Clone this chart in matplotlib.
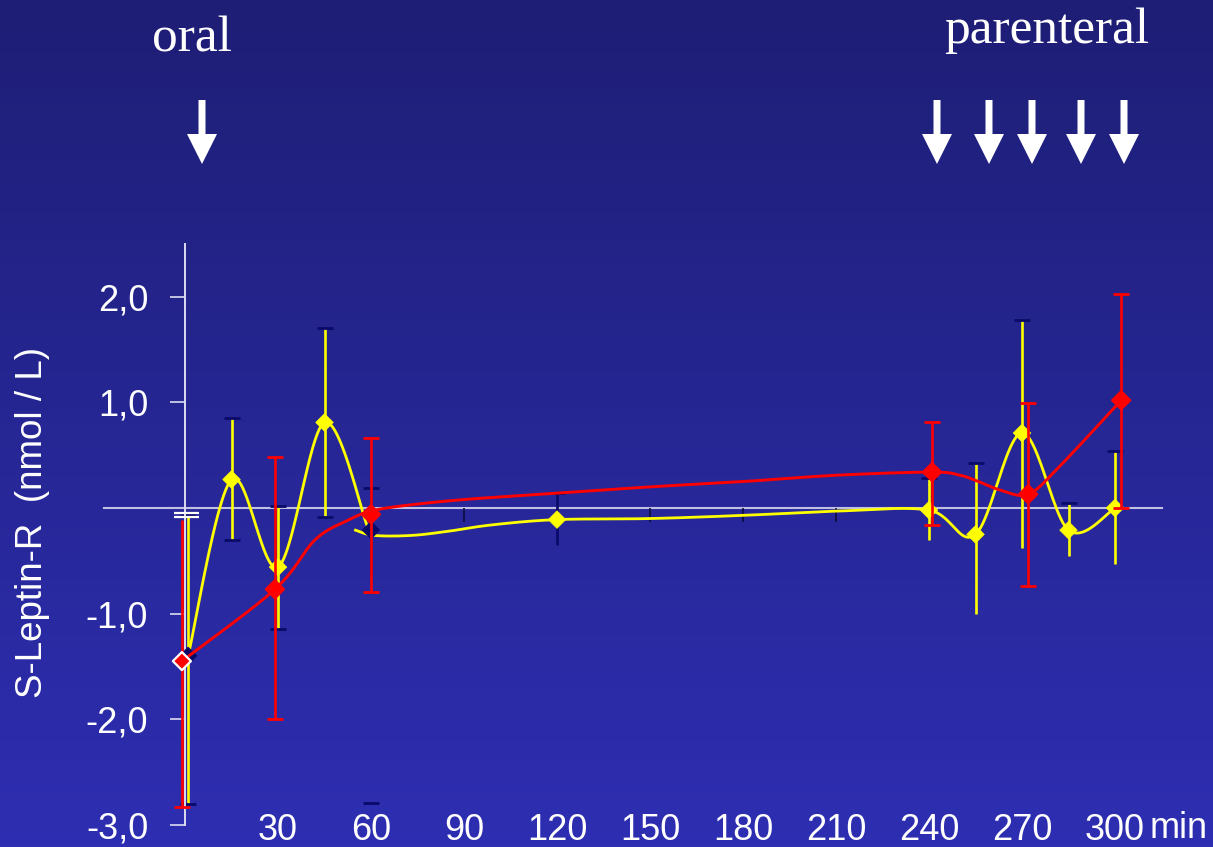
import numpy as np
import matplotlib.pyplot as plt
from matplotlib.patches import Polygon

# yellow series (markers + error bars)
yel_x = [1, 15, 30, 45, 60, 120, 240, 255, 270, 285, 300]
yel_y = [-1.40, 0.27, -0.56, 0.81, -0.21, -0.11, -0.02, -0.25, 0.71, -0.21, 0.0]
yel_hi = [-0.07, 0.85, 0.02, 1.70, 0.19, 0.14, 0.28, 0.43, 1.78, 0.05, 0.54]
yel_lo = [-2.80, -0.30, -1.15, -0.09, -0.63, -0.35, -0.30, -1.00, -0.38, -0.45, -0.53]
yel_low_cap = [True, True, True, True, False, False, False, False, False, False, False]

# yellow smoothed line, drawn in two pieces as in the original
yel_line1_x = [1, 15, 30, 45, 59]
yel_line1_y = [-1.40, 0.27, -0.56, 0.81, -0.19]
yel_line2_x = [55, 61, 73, 85, 99, 120, 150, 180, 210, 240, 255, 270, 285, 300]
yel_line2_y = [-0.21, -0.26, -0.26, -0.22, -0.16, -0.11, -0.10, -0.07, -0.03, -0.02,
               -0.25, 0.71, -0.21, 0.0]

# red series
red_x = [-1, 29, 60, 241, 272, 302]
red_y = [-1.45, -0.77, -0.06, 0.34, 0.13, 1.02]
red_hi = [-0.11, 0.48, 0.66, 0.81, 0.99, 2.03]
red_lo = [-2.83, -2.00, -0.80, -0.16, -0.74, 0.0]
red_top_cap = [False, True, True, True, True, True]

red_line_x = [-1, 29, 42, 53, 60, 70, 90, 120, 150, 180, 210, 241, 250, 256, 263, 272, 282, 302]
red_line_y = [-1.45, -0.77, -0.30, -0.11, -0.03, 0.02, 0.08, 0.14, 0.20, 0.25, 0.31, 0.34,
              0.31, 0.25, 0.17, 0.13, 0.39, 1.02]

x_ticks = [30, 60, 90, 120, 150, 180, 210, 240, 270, 300]
x_labels = ['30', '60', '90', '120', '150', '180', '210', '240', '270', '300']
y_ticks = [-3, -2, -1, 1, 2]
y_labels = ['-3,0', '-2,0', '-1,0', '1,0', '2,0']

YELLOW = '#ffff00'
RED = '#ff0000'
NAVY = '#0a0a68'

W, H = 1213, 847


def smooth(xs, ys, n=25, sx=3.1, sy=105.6):
    """Catmull-Rom curve through the points (done in pixel-like space)."""
    p = np.column_stack([np.asarray(xs) * sx, np.asarray(ys) * sy])
    p = np.vstack([p[0], p, p[-1]])
    t = np.linspace(0, 1, n)[:, None]
    segs = []
    for i in range(1, len(p) - 2):
        p0, p1, p2, p3 = p[i - 1], p[i], p[i + 1], p[i + 2]
        seg = 0.5 * (2 * p1 + (-p0 + p2) * t + (2 * p0 - 5 * p1 + 4 * p2 - p3) * t ** 2
                     + (-p0 + 3 * p1 - 3 * p2 + p3) * t ** 3)
        segs.append(seg)
    s = np.vstack(segs)
    return s[:, 0] / sx, s[:, 1] / sy


def pick(vals, mask):
    return [v for v, m in zip(vals, mask) if m]


fig = plt.figure(figsize=(W / 100, H / 100), dpi=100)

# background gradient + overlay for arrows
bg = fig.add_axes([0, 0, 1, 1])
top = np.array([30, 30, 118]) / 255
bot = np.array([46, 46, 178]) / 255
grad = np.linspace(0, 1, 256)[:, None, None]
img = top + (bot - top) * grad
img = np.repeat(img, 2, axis=1)
bg.imshow(img, extent=[0, W, H, 0], aspect='auto')
bg.set_xlim(0, W)
bg.set_ylim(H, 0)
bg.axis('off')

# arrows (pixel positions)
for ax_px in [202, 937, 989, 1032, 1081, 1124]:
    pts = [(ax_px - 3.5, 100), (ax_px + 3.5, 100), (ax_px + 3.5, 134), (ax_px + 15, 134),
           (ax_px, 164), (ax_px - 15, 134), (ax_px - 3.5, 134)]
    bg.add_patch(Polygon(pts, closed=True, color='white', lw=0))

fig.text(192 / W, 1 - 52 / H, 'oral', family='Liberation Serif', fontsize=37,
         color='white', ha='center', va='baseline')
fig.text(1047 / W, 1 - 43 / H, 'parenteral', family='Liberation Serif', fontsize=37,
         color='white', ha='center', va='baseline')

# main chart
ax = fig.add_axes([0.08096, 0.02373, 0.87914, 0.69445])
ax.set_facecolor('none')
ax.set_xlim(-28, 316)
ax.set_ylim(-3.02, 2.55)

for side in ['top', 'right', 'bottom']:
    ax.spines[side].set_visible(False)
ax.spines['left'].set_position(('data', 0))
ax.spines['left'].set_bounds(-3, 2.5)
ax.spines['left'].set_color('#dcdcf2')
ax.spines['left'].set_linewidth(1.4)

ax.set_yticks(y_ticks)
ax.set_yticklabels(y_labels)
ax.tick_params(axis='y', direction='out', length=10.5, width=1.2, color='#dcdcf2',
               pad=16, labelsize=26, labelcolor='white')
ax.set_xticks(x_ticks)
ax.set_xticklabels(x_labels)
ax.tick_params(axis='x', length=0, pad=-10, labelsize=26, labelcolor='white')
for lab in ax.get_xticklabels() + ax.get_yticklabels():
    lab.set_family('Liberation Sans')

fig.text(1150 / W, 1 - 838 / H, 'min', family='Liberation Sans', fontsize=26,
         color='white', ha='left', va='baseline')
fig.text(33 / W, 1 - 522 / H, 'S-Leptin-R  (nmol / L)', family='Liberation Sans',
         fontsize=26.5, color='white', rotation=90, ha='center', va='center')

# zero line and its small dark ticks
ax.plot([-26, 315], [0, 0], color='#c0c0e2', lw=1.5, zorder=1)
ax.vlines(x_ticks, -0.13, 0, colors='#0c0c3c', lw=1.2, zorder=1.5)

cap = dict(ls='none', marker='_', ms=12, mew=2)

# yellow series
bar_cols = [NAVY if x in (60, 120) else YELLOW for x in yel_x]
ax.vlines(yel_x, yel_lo, yel_hi, colors=bar_cols, lw=1.9, zorder=2)
ax.plot(yel_x, yel_hi, color=NAVY, zorder=2.2, **cap)
ax.plot(pick(yel_x, yel_low_cap), pick(yel_lo, yel_low_cap), color=NAVY, zorder=2.2, **cap)
ax.plot([60], [-2.79], color=NAVY, zorder=2.2, **cap)

for lx, ly in [(yel_line1_x, yel_line1_y), (yel_line2_x, yel_line2_y)]:
    sx, sy = smooth(lx, ly)
    ax.plot(sx, sy, color=YELLOW, lw=2.0, zorder=3)
mk_cols = [NAVY if x in (1, 60) else YELLOW for x in yel_x]
ax.scatter(yel_x, yel_y, marker='D', s=80, c=mk_cols, edgecolors=mk_cols, lw=0.5, zorder=4)

# red series
ax.vlines(red_x, red_lo, red_hi, colors=RED, lw=1.9, zorder=5)
ax.plot(red_x, red_lo, color=RED, zorder=5, **cap)
ax.plot(pick(red_x, red_top_cap), pick(red_hi, red_top_cap), color=RED, zorder=5, **cap)
rx, ry = smooth(red_line_x, red_line_y)
ax.plot(rx, ry, color=RED, lw=2.1, zorder=5)
red_edges = ['white'] + [RED] * (len(red_x) - 1)
ax.scatter(red_x, red_y, marker='D', s=85, c=RED, edgecolors=red_edges, lw=1.6, zorder=6)

# white caps at the start of the axis
ax.hlines([-0.05, -0.09], -3.5, 4.5, colors='white', lw=1.6, zorder=7)

fig.savefig('out.png', dpi=100)
